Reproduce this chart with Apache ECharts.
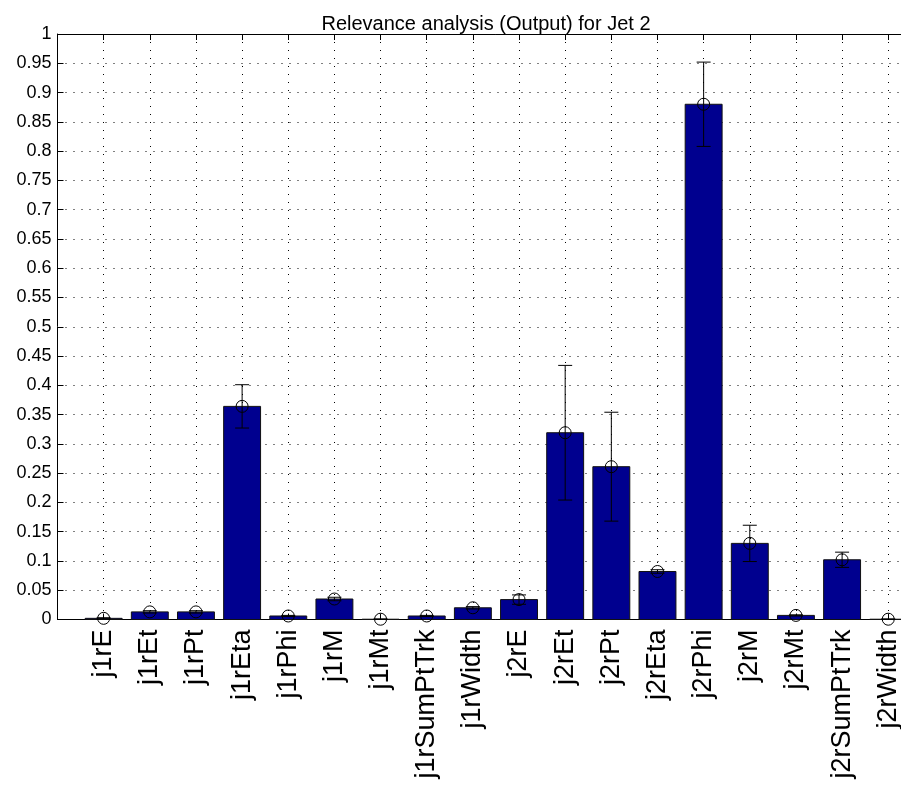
<!DOCTYPE html>
<html>
<head>
<meta charset="utf-8">
<script src="https://cdn.jsdelivr.net/npm/echarts@6/dist/echarts.min.js"></script>
<style>
  html, body { margin: 0; padding: 0; background: #fff; overflow: hidden; }
  /* the original figure is cut off on the right, so the chart is wider than the window */
  #chart { width: 935px; height: 797px; }
</style>
</head>
<body>
<div id="chart"></div>
<script>
// feature names, one bar each (x = 1..18)
var categories = ['j1rE', 'j1rEt', 'j1rPt', 'j1rEta', 'j1rPhi', 'j1rM', 'j1rMt', 'j1rSumPtTrk', 'j1rWidth',
  'j2rE', 'j2rEt', 'j2rPt', 'j2rEta', 'j2rPhi', 'j2rM', 'j2rMt', 'j2rSumPtTrk', 'j2rWidth'];
// mean relevance
var relevance = [0.002, 0.013, 0.013, 0.364, 0.006, 0.035, 0.0005, 0.006, 0.020,
  0.034, 0.319, 0.261, 0.082, 0.880, 0.130, 0.007, 0.102, 0.0005];
// half length of error bars
var errors = [0.001, 0.002, 0.002, 0.037, 0.001, 0.003, 0.0005, 0.001, 0.002,
  0.008, 0.115, 0.093, 0.003, 0.072, 0.031, 0.001, 0.013, 0.0005];
var yTicks = { min: 0, max: 1, step: 0.05 };
var xMax = 19;

var barData = relevance.map(function (v, i) { return [i + 1, v]; });
var errData = relevance.map(function (v, i) { return [i + 1, v - errors[i], v + errors[i], v]; });

var chart = echarts.init(document.getElementById('chart'));
var dotted = { color: '#000', width: 1, type: [1, 7] };

var option = {
  animation: false,
  backgroundColor: '#fff',
  title: {
    text: 'Relevance analysis (Output) for Jet 2',
    left: 481, top: 9, textAlign: 'center',
    textStyle: { fontFamily: 'Liberation Sans', fontSize: 20, fontWeight: 'normal', color: '#000' }
  },
  grid: { left: 57.5, top: 34, right: 0.6, bottom: 177.5, containLabel: false },
  xAxis: [{
    type: 'value', min: 0, max: xMax, interval: 1,
    axisLine: { show: true, onZero: false, lineStyle: { color: '#000', width: 1 } },
    axisTick: { show: true, inside: true, length: 6, lineStyle: { color: '#000' } },
    splitLine: { show: true, lineStyle: dotted },
    axisLabel: {
      rotate: 90, margin: 10, color: '#000', fontFamily: 'Liberation Sans', fontSize: 27,
      formatter: function (v) { return categories[v - 1] || ''; }
    }
  }, {
    type: 'value', min: 0, max: xMax, interval: 1, position: 'top',
    axisLine: { show: true, onZero: false, lineStyle: { color: '#000', width: 1 } },
    axisTick: { show: true, inside: true, length: 6, lineStyle: { color: '#000' } },
    splitLine: { show: false },
    axisLabel: { show: false }
  }],
  yAxis: {
    type: 'value', min: yTicks.min, max: yTicks.max, interval: yTicks.step,
    axisLine: { show: true, lineStyle: { color: '#000', width: 1 } },
    axisTick: { show: true, inside: true, length: 6, lineStyle: { color: '#000' } },
    splitLine: { show: true, lineStyle: dotted },
    axisLabel: {
      margin: 6, color: '#000', fontFamily: 'Liberation Sans', fontSize: 18,
      formatter: function (v) { return String(Math.round(v * 100) / 100); }
    }
  },
  series: [{
    type: 'custom',
    data: barData,
    z: 2,
    renderItem: function (params, api) {
      var x = api.value(0), v = api.value(1);
      var p0 = api.coord([x - 0.4, v]);
      var p1 = api.coord([x + 0.4, 0]);
      return {
        type: 'rect',
        shape: { x: p0[0], y: p0[1], width: p1[0] - p0[0], height: p1[1] - p0[1] },
        style: { fill: '#00008f', stroke: '#111', lineWidth: 1 }
      };
    }
  }, {
    type: 'custom',
    data: errData,
    z: 3,
    renderItem: function (params, api) {
      var x = api.value(0);
      var lo = api.coord([x, api.value(1)]);
      var hi = api.coord([x, api.value(2)]);
      var m = api.coord([x, api.value(3)]);
      var cap = 7;
      var st = { stroke: '#000', lineWidth: 1, fill: null };
      return {
        type: 'group',
        children: [
          { type: 'line', shape: { x1: lo[0], y1: lo[1], x2: hi[0], y2: hi[1] }, style: st },
          { type: 'line', shape: { x1: lo[0] - cap, y1: lo[1], x2: lo[0] + cap, y2: lo[1] }, style: st },
          { type: 'line', shape: { x1: hi[0] - cap, y1: hi[1], x2: hi[0] + cap, y2: hi[1] }, style: st },
          { type: 'circle', shape: { cx: m[0], cy: m[1], r: 6 }, style: { stroke: '#000', lineWidth: 1, fill: 'none' } }
        ]
      };
    }
  }]
};
chart.setOption(option);
</script>
</body>
</html>
